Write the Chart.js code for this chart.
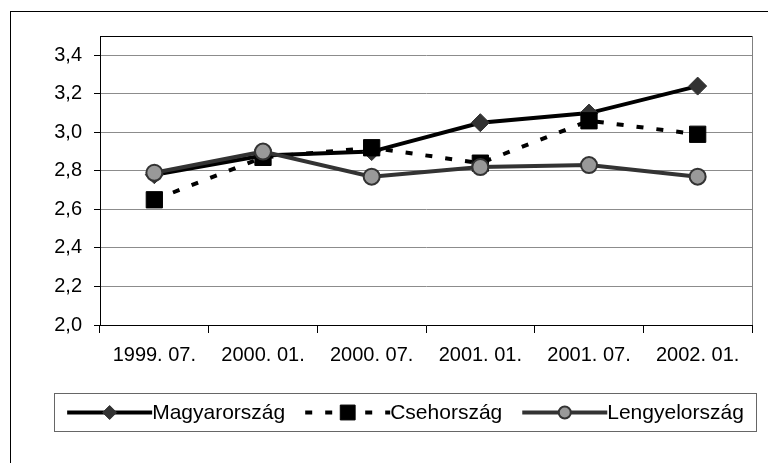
<!DOCTYPE html>
<html>
<head>
<meta charset="utf-8">
<title>Magyarország, Csehország, Lengyelország</title>
<script src="https://cdn.jsdelivr.net/npm/chart.js@4.4.1/dist/chart.umd.min.js"></script>
<style>
  html, body { margin: 0; padding: 0; background: #fff; }
  canvas { display: block; }
</style>
</head>
<body>
<canvas id="chart" width="768" height="463"></canvas>
<script>
// Categories (half-year dates)
const periods = ["1999. 07.", "2000. 01.", "2000. 07.", "2001. 01.", "2001. 07.", "2002. 01."];

// Series names
const seriesNames = ["Magyarország", "Csehország", "Lengyelország"];

// Series values
const hungary = [2.78, 2.88, 2.90, 3.05, 3.10, 3.24];
const czech = [2.65, 2.87, 2.92, 2.84, 3.06, 2.99];
const poland = [2.79, 2.90, 2.77, 2.82, 2.83, 2.77];

// Y axis range, step and highest labelled tick
const yMin = 2.0;
const yMax = 3.5;
const yStep = 0.2;
const yTopTick = 3.4;

const TICK_FONT = { family: "'Liberation Sans', Arial, sans-serif", size: 20 };
const LEGEND_FONT = "21px 'Liberation Sans', Arial, sans-serif";

// Format numbers with a decimal comma
function formatTick(value) {
  return value.toFixed(1).replace(".", ",");
}

// Draw the legend box under the plot
function drawLegend(chart) {
  const ctx = chart.ctx;
  const box = { left: 54.5, right: 756.5, top: 393.5, bottom: 431.5 };
  const midY = (box.top + box.bottom) / 2;
  const sample = 85;
  const gap = 20;

  ctx.save();
  ctx.strokeStyle = "#666";
  ctx.lineWidth = 1;
  ctx.strokeRect(box.left, box.top, box.right - box.left, box.bottom - box.top);

  ctx.font = LEGEND_FONT;
  const datasets = chart.data.datasets;
  const widths = datasets.map((ds) => ctx.measureText(ds.label).width);
  const total =
    widths.reduce((a, b) => a + b, 0) + sample * datasets.length + gap * (datasets.length - 1);
  let x = (box.left + box.right) / 2 - total / 2;

  datasets.forEach((ds, i) => {
    // line sample
    ctx.save();
    ctx.strokeStyle = ds.borderColor;
    ctx.lineWidth = ds.borderWidth;
    ctx.setLineDash(ds.borderDash || []);
    ctx.beginPath();
    ctx.moveTo(x, midY);
    ctx.lineTo(x + sample, midY);
    ctx.stroke();
    ctx.restore();

    // marker
    ctx.save();
    ctx.fillStyle = ds.pointBackgroundColor;
    ctx.strokeStyle = ds.pointBorderColor;
    ctx.lineWidth = ds.pointBorderWidth;
    Chart.helpers.drawPoint(
      ctx,
      { pointStyle: ds.pointStyle, radius: ds.legendRadius, rotation: 0, borderWidth: ds.pointBorderWidth },
      x + sample / 2,
      midY
    );
    ctx.restore();

    // label
    ctx.fillStyle = "#000";
    ctx.textAlign = "left";
    ctx.textBaseline = "middle";
    ctx.fillText(ds.label, x + sample, midY + 1);

    x += sample + widths[i] + gap;
  });
  ctx.restore();
}

// Frame around the whole picture, plot borders and legend
const framePlugin = {
  id: "frame",
  afterDraw(chart) {
    const ctx = chart.ctx;
    const area = chart.chartArea;
    ctx.save();
    ctx.strokeStyle = "#000";
    ctx.lineWidth = 1;
    ctx.strokeRect(10.5, 11.5, 780, 480);

    // top border of the plot area
    ctx.beginPath();
    ctx.moveTo(area.left, Math.round(area.top) + 0.5);
    ctx.lineTo(area.right, Math.round(area.top) + 0.5);
    ctx.stroke();

    // right border of the plot area
    ctx.strokeStyle = "#808080";
    ctx.beginPath();
    ctx.moveTo(Math.round(area.right) + 0.5, area.top);
    ctx.lineTo(Math.round(area.right) + 0.5, area.bottom);
    ctx.stroke();
    ctx.restore();

    drawLegend(chart);
  },
};

const ctx = document.getElementById("chart").getContext("2d");

new Chart(ctx, {
  type: "line",
  data: {
    labels: periods,
    datasets: [
      {
        label: seriesNames[0],
        data: hungary,
        borderColor: "#000",
        borderWidth: 4,
        pointStyle: "rectRot",
        pointRadius: 9,
        legendRadius: 7,
        pointBackgroundColor: "#333",
        pointBorderColor: "#333",
        pointBorderWidth: 1,
        tension: 0,
        order: 2,
      },
      {
        label: seriesNames[1],
        data: czech,
        borderColor: "#000",
        borderWidth: 4,
        borderDash: [7, 13],
        pointStyle: "rect",
        pointRadius: 11.5,
        legendRadius: 10.5,
        pointBackgroundColor: "#000",
        pointBorderColor: "#000",
        pointBorderWidth: 1,
        tension: 0,
        order: 1,
      },
      {
        label: seriesNames[2],
        data: poland,
        borderColor: "#333",
        borderWidth: 4,
        pointStyle: "circle",
        pointRadius: 8,
        legendRadius: 6,
        pointBackgroundColor: "#999",
        pointBorderColor: "#333",
        pointBorderWidth: 2,
        tension: 0,
        order: 0,
      },
    ],
  },
  options: {
    responsive: false,
    animation: false,
    devicePixelRatio: 1,
    layout: {
      padding: { left: 0, top: 36, right: 16, bottom: 98 },
    },
    plugins: {
      legend: { display: false },
      tooltip: { enabled: false },
    },
    scales: {
      x: {
        offset: true,
        grid: {
          offset: true,
          drawOnChartArea: false,
          drawTicks: true,
          tickLength: 8,
          tickColor: "#000",
        },
        border: { display: true, color: "#000", width: 1 },
        ticks: {
          color: "#000",
          font: TICK_FONT,
          padding: 10,
          maxRotation: 0,
          autoSkip: false,
        },
        afterFit(scale) {
          scale.height = 40;
        },
      },
      y: {
        min: yMin,
        max: yMax,
        bounds: "data",
        grid: {
          color: "#8c8c8c",
          drawTicks: true,
          tickLength: 6,
          tickColor: "#000",
        },
        border: { display: true, color: "#000", width: 1 },
        ticks: {
          stepSize: yStep,
          color: "#000",
          font: TICK_FONT,
          padding: 12,
          callback: (value) => formatTick(value),
        },
        // keep the top of the axis at 3,5 but label only up to 3,4
        afterBuildTicks(scale) {
          scale.ticks = scale.ticks.filter((t) => t.value <= yTopTick + 1e-9);
        },
        afterFit(scale) {
          scale.width = 100;
        },
      },
    },
  },
  plugins: [framePlugin],
});
</script>
</body>
</html>
